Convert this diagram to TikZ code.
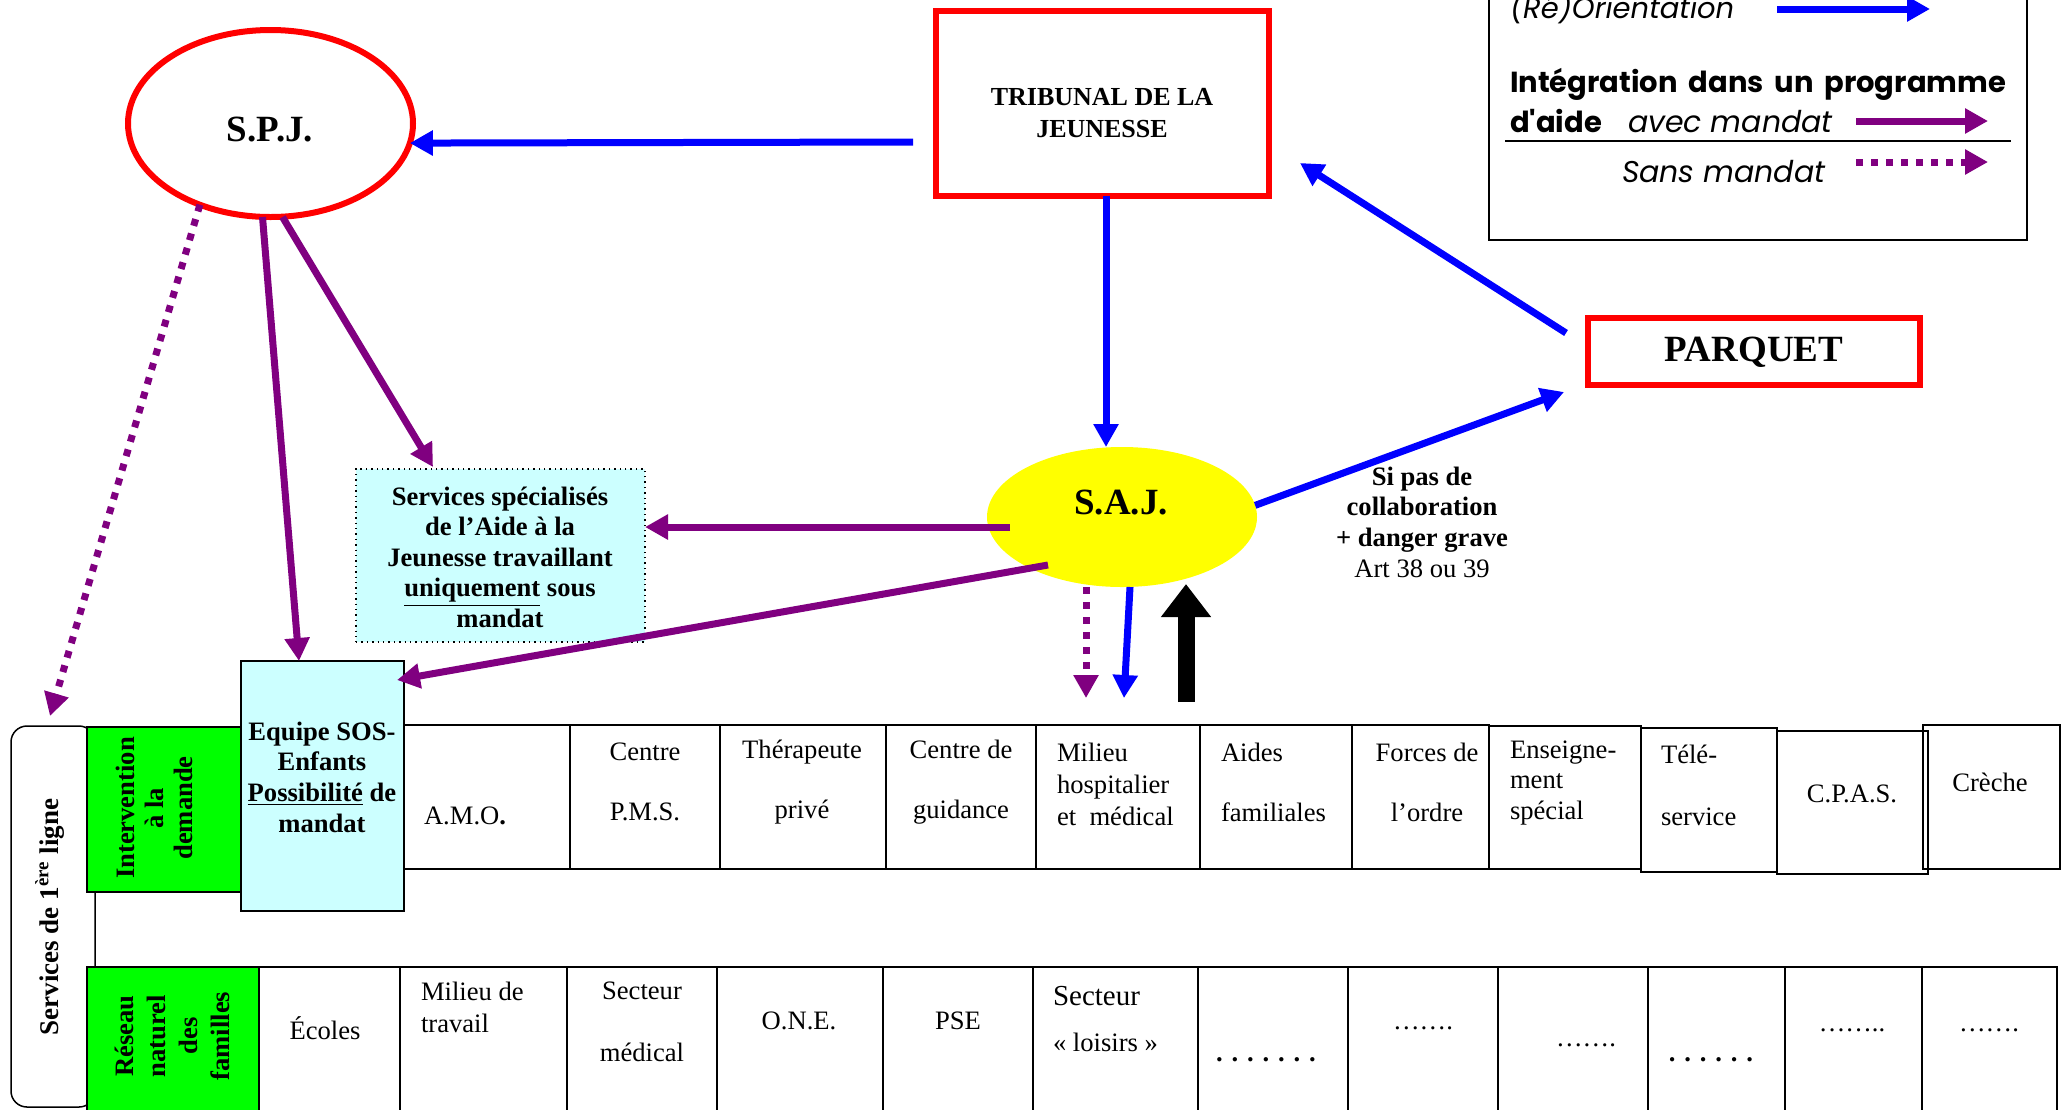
\documentclass[tikz,border=0pt]{standalone}
\usepackage{fontspec}
\setmainfont{Liberation Serif}
\newfontfamily\legendfont{Poppins}
\usetikzlibrary{arrows.meta,shapes.geometric,fit,calc}
\definecolor{myblue}{HTML}{0000FF}
\definecolor{mypurple}{HTML}{800080}
\definecolor{myred}{HTML}{FF0000}
\definecolor{myyellow}{HTML}{FFFF00}
\definecolor{mygreen}{HTML}{00FF00}
\definecolor{mycyan}{HTML}{CCFFFF}
\begin{document}
\begin{tikzpicture}[x=0.5pt,y=-0.5pt,
  every node/.style={inner sep=0pt, outer sep=0pt},
  cell/.style={draw, line width=0.75pt},
  greenbox/.style={draw, line width=0.9pt, fill=mygreen},
  cyanbox/.style={draw, line width=0.9pt, fill=mycyan},
  specbox/.style={draw, line width=0.7pt, dotted, fill=mycyan},
  redbox/.style={draw=myred, line width=3pt},
  arr/.style={line width=3.5pt, -{Triangle[length=11.5pt,width=12pt]}},
  bluearr/.style={arr, draw=myblue},
  purparr/.style={arr, draw=mypurple},
  dotarr/.style={purparr, dash pattern=on 3.5pt off 4pt},
  bigarr/.style={draw=black, line width=8.5pt, -{Triangle[length=16.5pt,width=24pt]}},
  t/.style={font=\fontsize{13.3}{15.3}\selectfont},
  tw/.style={font=\fontsize{13.3}{30}\selectfont, align=center},
  tb/.style={font=\fontsize{13.3}{15.3}\selectfont\bfseries, align=center},
  big/.style={font=\fontsize{18.5}{20}\selectfont\bfseries},
  lg/.style={anchor=base west, font=\legendfont\fontsize{14.5}{16}\selectfont},
]
\useasboundingbox (0,0) rectangle (2064,1109);

% left frame
\node[draw, line width=0.75pt, rounded corners=8pt, fit={(11,726)(95,1107)}] (frame) {};
\node[font=\fontsize{13.5}{15}\selectfont\bfseries, rotate=90] (framet) at (50,917) {Services de 1\textsuperscript{ère} ligne};

% row 1
\node[cell, fit={(404,725)(570,869)}] (amo) {};
\node[cell, fit={(570,725)(720,869)}] (pms) {};
\node[cell, fit={(720,725)(886,869)}] (thera) {};
\node[cell, fit={(886,725)(1036,869)}] (guid) {};
\node[cell, fit={(1036,725)(1200,869)}] (hosp) {};
\node[cell, fit={(1200,725)(1352,869)}] (aides) {};
\node[cell, fit={(1352,725)(1489,869)}] (forces) {};
\node[cell, fit={(1489,726)(1641,869)}] (ens) {};
\node[cell, fit={(1641,728)(1777,872)}] (tele) {};
\node[cell, fit={(1777,731)(1928,874)}] (cpas) {};
\node[cell, fit={(1923,725)(2060,869)}] (creche) {};

\node[t, anchor=west] (amot) at (424,816) {A.M.O\textbf{.}};
\node[tw] (pmst) at (645,782) {Centre\\P.M.S.};
\node[tw] (therat) at (802,782) {Thérapeute\\privé};
\node[tw] (guidt) at (961,782) {Centre de\\guidance};
\node[font=\fontsize{13.3}{16}\selectfont, align=left, anchor=west] (hospt) at (1057,784) {Milieu\\hospitalier\\et~ médical};
\node[tw, align=left, anchor=west] (aidest) at (1221,782) {Aides\\familiales};
\node[tw] (forcest) at (1427,782) {Forces de\\l’ordre};
\node[font=\fontsize{13.3}{15.3}\selectfont, align=left, anchor=west] (enst) at (1510,783) {Enseigne-\\ment\\spécial};
\node[font=\fontsize{13.3}{31}\selectfont, align=left, anchor=west] (telet) at (1661,785) {Télé-\\service};
\node[t] (cpast) at (1852,794) {C.P.A.S.};
\node[t] (crechet) at (1990,782) {Crèche};

% row 2
\node[cell, fit={(259,967)(400,1120)}] (ecoles) {};
\node[cell, fit={(400,967)(567,1120)}] (travail) {};
\node[cell, fit={(567,967)(717,1120)}] (secmed) {};
\node[cell, fit={(717,967)(883,1120)}] (one) {};
\node[cell, fit={(883,967)(1033,1120)}] (pse) {};
\node[cell, fit={(1033,967)(1198,1120)}] (loisirs) {};
\node[cell, fit={(1198,967)(1348,1120)}] (da) {};
\node[cell, fit={(1348,967)(1498,1120)}] (db) {};
\node[cell, fit={(1498,967)(1648,1120)}] (dc) {};
\node[cell, fit={(1648,967)(1785,1120)}] (dd) {};
\node[cell, fit={(1785,967)(1922,1120)}] (de) {};
\node[cell, fit={(1922,967)(2057,1120)}] (df) {};

\node[t] (ecolest) at (325,1028) {Écoles};
\node[font=\fontsize{13.3}{16}\selectfont, align=left, anchor=west] (travailt) at (421,1007) {Milieu de\\travail};
\node[font=\fontsize{13.3}{31}\selectfont, align=center] (secmedt) at (642,1022) {Secteur\\médical};
\node[t] (onet) at (799,1021) {O.N.E.};
\node[t] (pset) at (958,1021) {PSE};
\node[font=\fontsize{13.3}{23}\selectfont, align=left, anchor=west] (loisirst) at (1053,1019) {{\fontsize{14.5}{23}\selectfont Secteur}\\«~loisirs~»};
\node[font=\fontsize{13.3}{15}\selectfont\bfseries] (dat) at (1266,1060) {. . . . . . .};
\node[t] (dbt) at (1423,1028) {…….};
\node[t] (dct) at (1586,1045) {…….};
\node[font=\fontsize{13.3}{15}\selectfont\bfseries] (ddt) at (1711,1060) {. . . . . .};
\node[t] (det) at (1852,1030) {……..};
\node[t] (dft) at (1989,1030) {…….};

% green boxes
\node[greenbox, fit={(87,727)(241,892)}] (green1) {};
\node[tb, rotate=90, font=\fontsize{13.3}{14.5}\selectfont\bfseries] (green1t) at (154,808) {Intervention\\à la\\demande};
\node[greenbox, fit={(87,967)(259,1120)}] (green2) {};
\node[tb, rotate=90, font=\fontsize{13.3}{16}\selectfont\bfseries] (green2t) at (172,1036) {Réseau\\naturel\\des\\familles};

% equipe SOS
\node[cyanbox, fit={(241,661)(404,911)}] (equipe) {};
\node[tb] (equipet) at (322,777) {Equipe SOS-\\Enfants\\\underline{Possibilité} de\\mandat};

% services specialises
\node[specbox, fit={(356,469)(645,642)}] (servspec) {};
\node[tb, font=\fontsize{13.3}{15.25}\selectfont\bfseries] (servspect) at (500,557) {Services spécialisés\\de l’Aide à la\\Jeunesse travaillant\\\underline{uniquement} sous\\mandat};

% main shapes
\node[ellipse, draw=myred, line width=3pt, minimum width=142.5pt, minimum height=93.5pt] (spj) at (270.5,123.5) {};
\node[big] (spjt) at (270,130) {S.P.J.};
\node[redbox, fit={(936,11)(1269,196)}] (tribunal) {};
\node[font=\fontsize{13}{16}\selectfont\bfseries, align=center] (tribunalt) at (1102,113) {TRIBUNAL DE LA\\JEUNESSE};
\node[redbox, fit={(1588,318)(1920,385)}] (parquet) {};
\node[big] (parquett) at (1754,352) {PARQUET};
\node[ellipse, fill=myyellow, minimum width=135pt, minimum height=70pt] (saj) at (1122,517) {};
\node[big] (sajt) at (1121,502) {S.A.J.};

% connector label
\node[font=\fontsize{13.3}{15.3}\selectfont, align=center] (cond) at (1422,522) {\textbf{Si pas de}\\\textbf{collaboration}\\\textbf{+ danger grave}\\Art 38 ou 39};

% connectors
\draw[bluearr] ([xshift=-11.5pt,yshift=-19.25pt]tribunal.west) -- (spj.-8);
\draw[bluearr] ([xshift=1.75pt]tribunal.south) -- ([xshift=-8pt]saj.north);
\draw[bluearr] ([xshift=-11pt,yshift=9.25pt]parquet.west) -- ([xshift=15.5pt,yshift=16.5pt]tribunal.south east);
\draw[bluearr] (saj.5) -- ([xshift=-12pt,yshift=-3.5pt]parquet.south west);
\draw[purparr] ([xshift=11.5pt,yshift=-5pt]saj.west) -- ([yshift=14.25pt]servspec.east);
\draw[purparr] ([xshift=30.5pt,yshift=-24pt]saj.west) -- ([xshift=-3.5pt,yshift=-9.5pt]equipe.north east);
\draw[purparr] ([xshift=6pt]spj.south) -- ([xshift=38.5pt,yshift=1pt]servspec.north west);
\draw[purparr] ([xshift=-4pt]spj.south) -- ([xshift=-11.75pt]equipe.north);
\draw[dotarr] (spj.229) -- ([xshift=19.5pt,yshift=5pt]frame.north west);
\draw[dotarr] ([xshift=-18pt]saj.south) -- ([xshift=-16pt,yshift=13.5pt]hosp.north);
\draw[bluearr] ([xshift=4pt]saj.south) -- ([xshift=3pt,yshift=13.5pt]hosp.north);
\draw[bigarr] ([xshift=34pt,yshift=11.5pt]hosp.north) -- ([xshift=32pt,yshift=1.5pt]saj.south);

% legend
\node[draw, line width=0.8pt, fit={(1489,-40)(2027,240)}] (legend) {};
\node[lg, font=\legendfont\itshape\fontsize{14.5}{16}\selectfont] (lgo) at (1510,18) {(Ré)Orientation};
\node[lg, font=\legendfont\bfseries\fontsize{14.5}{16}\selectfont] (lgi) at (1510,92) {\makebox[248pt][s]{Intégration dans un programme}};
\node[lg, font=\legendfont\bfseries\fontsize{14.5}{16}\selectfont] (lgd) at (1510,132) {d'aide};
\node[lg, font=\legendfont\itshape\fontsize{15}{16}\selectfont] (lga) at (1628,132) {avec mandat};
\node[lg, font=\legendfont\itshape\fontsize{15}{16}\selectfont] (lgs) at (1622,182) {Sans mandat};
\coordinate (rl1) at (1505,141);
\coordinate (rl2) at (2011,141);
\draw[line width=0.8pt] (rl1) -- (rl2);
\coordinate (la1) at (1777,9);
\coordinate (la2) at (1930,9);
\coordinate (lb1) at (1856,121);
\coordinate (lb2) at (1988,121);
\coordinate (lc1) at (1856,162);
\coordinate (lc2) at (1988,162);
\draw[bluearr] (la1) -- (la2);
\draw[purparr] (lb1) -- (lb2);
\draw[dotarr] (lc1) -- (lc2);
\end{tikzpicture}
\end{document}
